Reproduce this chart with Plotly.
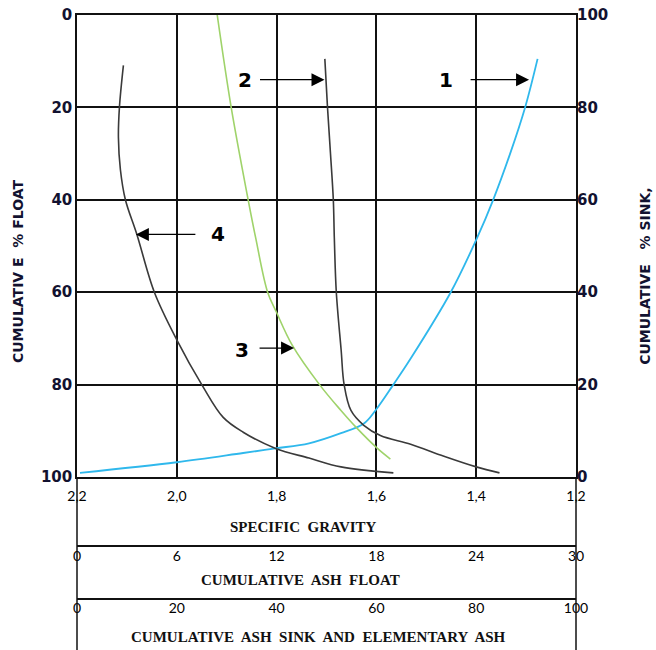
import plotly.graph_objects as go

# ---- tick definitions ----
sg_ticks = [2.2, 2.0, 1.8, 1.6, 1.4, 1.2]
sg_labels = ["2,2", "2,0", "1,8", "1,6", "1,4", "1,2"]
ash_float_ticks = [0, 6, 12, 18, 24, 30]
ash_sink_ticks = [0, 20, 40, 60, 80, 100]
float_ticks = [0, 20, 40, 60, 80, 100]
sink_ticks = [0, 20, 40, 60, 80, 100]

# ---- curve 1: specific gravity curve (SG vs cumulative % float) ----
c1_sg = [1.277, 1.302, 1.332, 1.366, 1.398, 1.451, 1.531, 1.566, 1.602, 1.625,
         1.671, 1.735, 1.802, 1.867, 2.0, 2.194]
c1_float = [9.5, 20, 30, 40, 48.2, 60, 74.3, 80, 85.6, 88.4,
            90.5, 92.7, 93.8, 94.8, 96.8, 99.1]

# ---- curve 2: cumulative ash float ----
c2_ash = [14.9, 15.06, 15.24, 15.41, 15.47, 15.59, 15.88, 16.06, 16.47, 17.24,
          18.24, 20.06, 22.06, 24.0, 25.4]
c2_float = [9.5, 20, 30, 40, 48.2, 60, 72.5, 80, 85.6, 88.8,
            91.0, 92.9, 95.5, 97.8, 99.1]

# ---- curve 3: elementary ash ----
c3_ash = [28.1, 30.9, 34.3, 35.8, 38.2, 40, 43.1, 48.6, 52.9, 55.9, 60.2, 62.8]
c3_float = [0, 20, 40, 48.2, 60, 64.4, 71.4, 80, 85.6, 89.2, 93.8, 96.1]

# ---- curve 4: cumulative ash sink ----
c4_ash = [9.3, 8.5, 8.3, 8.7, 9.7, 12.0, 15.5, 20, 25.0, 29.3, 33.3, 39.8,
          46.5, 52.9, 63.4]
c4_float = [10.9, 20, 26.5, 33.5, 40, 47.5, 60, 70.3, 80, 87.1, 90.3, 93.8,
            95.9, 97.8, 99.1]

BLUE = "#2fb8ec"
GREEN = "#9fd36a"
DARK = "#3a3a3a"
TXT = "#121230"

fig = go.Figure()
fig.add_trace(go.Scatter(x=c1_sg, y=c1_float, mode="lines", xaxis="x", yaxis="y",
                         line=dict(color=BLUE, width=1.8, shape="spline"), showlegend=False))
fig.add_trace(go.Scatter(x=c2_ash, y=c2_float, mode="lines", xaxis="x2", yaxis="y",
                         line=dict(color=DARK, width=1.6, shape="spline"), showlegend=False))
fig.add_trace(go.Scatter(x=c3_ash, y=c3_float, mode="lines", xaxis="x3", yaxis="y",
                         line=dict(color=GREEN, width=1.6, shape="spline"), showlegend=False))
fig.add_trace(go.Scatter(x=c4_ash, y=c4_float, mode="lines", xaxis="x3", yaxis="y",
                         line=dict(color=DARK, width=1.6, shape="spline"), showlegend=False))
# invisible trace to activate right axis
fig.add_trace(go.Scatter(x=[2.2], y=[0], xaxis="x", yaxis="y2", mode="markers",
                         marker=dict(opacity=0), showlegend=False, hoverinfo="skip"))

PLOT_BOTTOM = 0.2724
tickfont_bold = dict(family="DejaVu Sans", size=15, color=TXT, weight="bold")
bottom_tick_font = dict(family="Lato", size=14, color="#000000")

fig.update_layout(
    width=656, height=650,
    margin=dict(l=77, r=80, t=15, b=0, autoexpand=False),
    paper_bgcolor="white", plot_bgcolor="white",
    xaxis=dict(range=[2.2, 1.2], domain=[0, 1], tickvals=sg_ticks, ticktext=sg_labels,
               showgrid=True, gridcolor="#111111", gridwidth=1.5,
               showline=True, linecolor="#111111", linewidth=1.5, mirror=True,
               ticks="outside", ticklen=5, tickcolor="rgba(0,0,0,0)",
               tickfont=bottom_tick_font, zeroline=False, anchor="y",
               ticklabeloverflow="allow", automargin=False),
    xaxis2=dict(range=[0, 30], overlaying="x", anchor="free", position=0.1638,
                tickvals=ash_float_ticks, ticktext=[str(v) for v in ash_float_ticks],
                showgrid=False, showline=True, linecolor="#111111", linewidth=1.5,
                ticks="", ticklabelstandoff=-3, ticklabeloverflow="allow",
                tickfont=bottom_tick_font, zeroline=False, side="bottom",
                automargin=False),
    xaxis3=dict(range=[0, 100], overlaying="x", anchor="free", position=0.0803,
                tickvals=ash_sink_ticks, ticktext=[str(v) for v in ash_sink_ticks],
                showgrid=False, showline=True, linecolor="#111111", linewidth=1.5,
                ticks="", ticklabelstandoff=-4, ticklabeloverflow="allow",
                tickfont=bottom_tick_font, zeroline=False, side="bottom",
                automargin=False),
    yaxis=dict(range=[100, 0], domain=[PLOT_BOTTOM, 1], tickvals=float_ticks,
               showgrid=True, gridcolor="#111111", gridwidth=1.5,
               showline=True, linecolor="#111111", linewidth=1.5, mirror=True,
               ticks="", tickfont=tickfont_bold, zeroline=False,
               ticklabeloverflow="allow", automargin=False),
    yaxis2=dict(range=[0, 100], overlaying="y", side="right", tickvals=sink_ticks,
                showgrid=False, showline=False, ticks="", tickfont=tickfont_bold,
                zeroline=False, anchor="x", ticklabeloverflow="allow",
                automargin=False),
)

# extension lines down through the tables
for xp in (0, 1):
    fig.add_shape(type="line", xref="paper", yref="paper", x0=xp, x1=xp,
                  y0=0, y1=PLOT_BOTTOM, line=dict(color="#111111", width=1.5))

# axis titles
title_font = dict(family="DejaVu Sans", size=14, color=TXT, weight="bold")
fig.add_annotation(text="CUMULATIV E  % FLOAT", xref="paper", yref="paper",
                   x=-0.118, y=0.597, xanchor="center", yanchor="middle",
                   textangle=-90, showarrow=False, font=title_font)
fig.add_annotation(text="CUMULATIVE   % SINK,", xref="paper", yref="paper",
                   x=1.138, y=0.589, xanchor="center", yanchor="middle",
                   textangle=-90, showarrow=False, font=title_font)

serif_font = dict(family="Liberation Serif", size=15, color="#111111", weight="bold")
fig.add_annotation(text="SPECIFIC  GRAVITY", xref="paper", yref="paper",
                   x=0.453, y=0.1937, xanchor="center", yanchor="middle",
                   showarrow=False, font=serif_font)
fig.add_annotation(text="CUMULATIVE  ASH  FLOAT", xref="paper", yref="paper",
                   x=0.447, y=0.1102, xanchor="center", yanchor="middle",
                   showarrow=False, font=serif_font)
fig.add_annotation(text="CUMULATIVE  ASH  SINK  AND  ELEMENTARY  ASH", xref="paper",
                   yref="paper", x=0.483, y=0.0205, xanchor="center", yanchor="middle",
                   showarrow=False, font=serif_font)

# curve number labels with arrows
num_font = dict(family="DejaVu Sans", size=20, color="#000000", weight="bold")
labels = [
    # (text, text_x, text_y, tip_x, tip_y, tail_dx)
    ("1", 1.461, 14.0, 1.294, 14.0, -60),
    ("2", 1.863, 14.0, 1.704, 14.0, -66),
    ("3", 1.869, 72.5, 1.765, 72.1, -36),
    ("4", 1.917, 47.5, 2.082, 47.5, 61),
]
for txt, tx, ty, ax_, ay_, dx in labels:
    fig.add_annotation(text=txt, x=tx, y=ty, xref="x", yref="y", showarrow=False,
                       xanchor="center", yanchor="middle", font=num_font)
    fig.add_annotation(text="", x=ax_, y=ay_, xref="x", yref="y", showarrow=True,
                       ax=dx, ay=0, arrowhead=2, arrowsize=2.0, arrowwidth=1.3,
                       arrowcolor="#000000")

fig.write_html("out.html", config={"displayModeBar": False},
               post_script="document.body.style.margin='0';"
                           "document.body.style.overflow='hidden';")
